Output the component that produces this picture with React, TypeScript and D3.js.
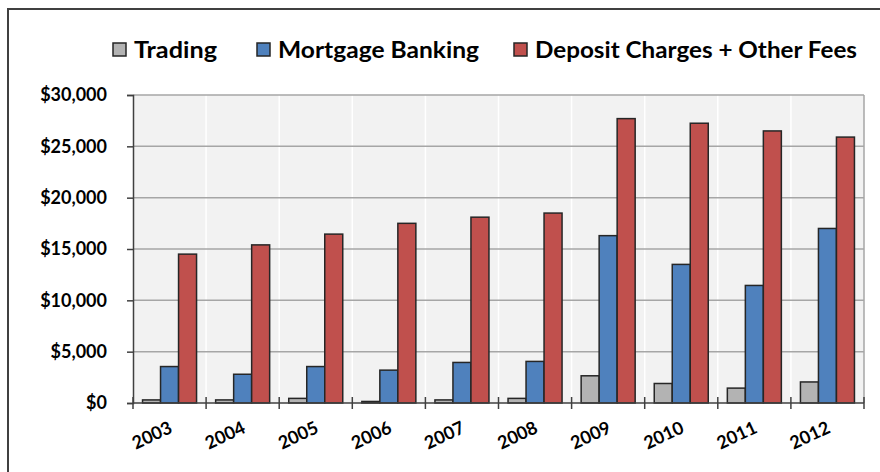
import React, { useEffect, useRef } from "react";
import * as d3 from "d3";

const years = ["2003", "2004", "2005", "2006", "2007", "2008", "2009", "2010", "2011", "2012"];
const seriesNames = ["Trading", "Mortgage Banking", "Deposit Charges + Other Fees"];
const trading = [300, 300, 450, 150, 300, 450, 2650, 1900, 1450, 2050];
const mortgageBanking = [3550, 2800, 3550, 3200, 3950, 4050, 16300, 13500, 11450, 17000];
const depositCharges = [14500, 15400, 16450, 17500, 18100, 18500, 27700, 27250, 26500, 25900];
const yTicks = [0, 5000, 10000, 15000, 20000, 25000, 30000];
const colors = ["#b3b3b3", "#4f81bd", "#c0504d"];

const FONT = "Lato, 'Open Sans', sans-serif";

const App = () => {
  const chartRef = useRef<SVGSVGElement>(null);

  useEffect(() => {
    const width = 880,
      height = 472;
    const svg = d3.select(chartRef.current);
    svg.selectAll("*").remove();

    // Outer chart frame (runs off the right and bottom)
    svg.append("rect")
      .attr("x", 8)
      .attr("y", 9)
      .attr("width", width + 20)
      .attr("height", height + 20)
      .attr("fill", "#fff")
      .attr("stroke", "#404040")
      .attr("stroke-width", 2);

    const margin = { top: 95, right: 16, bottom: 69, left: 133 };
    const innerWidth = width - margin.left - margin.right,
      innerHeight = height - margin.top - margin.bottom;

    const g = svg.append("g").attr("transform", `translate(${margin.left},${margin.top})`);

    const x0 = d3.scaleBand().domain(years).range([0, innerWidth]).padding(0);
    const x1 = d3.scaleBand().domain(seriesNames).range([0, x0.bandwidth()]).paddingInner(0).paddingOuter(0.53);
    const y = d3.scaleLinear().domain([0, 30000]).range([innerHeight, 0]);

    // Plot area
    g.append("rect")
      .attr("width", innerWidth)
      .attr("height", innerHeight)
      .attr("fill", "#f2f2f2");

    // White vertical lines between categories
    g.selectAll(".vgrid")
      .data(years.slice(1))
      .enter()
      .append("line")
      .attr("x1", d => x0(d)!)
      .attr("x2", d => x0(d)!)
      .attr("y1", 0)
      .attr("y2", innerHeight)
      .attr("stroke", "#fff")
      .attr("stroke-width", 1.5);

    // Horizontal gridlines
    g.selectAll(".hgrid")
      .data(yTicks.slice(1))
      .enter()
      .append("line")
      .attr("x1", 0)
      .attr("x2", innerWidth)
      .attr("y1", d => y(d))
      .attr("y2", d => y(d))
      .attr("stroke", "#a6a6a6")
      .attr("stroke-width", 1.5);

    // Right edge of plot
    g.append("line")
      .attr("x1", innerWidth)
      .attr("x2", innerWidth)
      .attr("y1", 0)
      .attr("y2", innerHeight)
      .attr("stroke", "#a6a6a6")
      .attr("stroke-width", 1.5);

    // Bars
    const values = [trading, mortgageBanking, depositCharges];
    values.forEach((vals, si) => {
      g.append("g")
        .selectAll("rect")
        .data(vals)
        .enter()
        .append("rect")
        .attr("x", (d, i) => x0(years[i])! + x1(seriesNames[si])!)
        .attr("y", d => y(d))
        .attr("width", x1.bandwidth())
        .attr("height", d => innerHeight - y(d))
        .attr("fill", colors[si])
        .attr("stroke", "#262626")
        .attr("stroke-width", 1.5);
    });

    // Y axis
    const yAxis = d3
      .axisLeft(y)
      .tickValues(yTicks)
      .tickSize(6)
      .tickPadding(20)
      .tickFormat(d => "$" + d3.format(",")(d as number));
    const yg = g.append("g").call(yAxis);
    yg.select(".domain").attr("stroke", "#404040").attr("stroke-width", 1.5);
    yg.selectAll(".tick line").attr("stroke", "#404040").attr("stroke-width", 1.5);
    yg.selectAll("text")
      .attr("font-family", FONT)
      .attr("font-weight", "bold")
      .attr("font-size", 18)
      .attr("fill", "#000");

    // X axis: ticks at category boundaries
    const xg = g.append("g").attr("transform", `translate(0,${innerHeight})`);
    xg.append("line")
      .attr("x1", 0)
      .attr("x2", innerWidth)
      .attr("stroke", "#404040")
      .attr("stroke-width", 1.5);
    xg.selectAll(".xtick")
      .data([...years.map(d => x0(d)!), innerWidth])
      .enter()
      .append("line")
      .attr("x1", d => d)
      .attr("x2", d => d)
      .attr("y1", -6)
      .attr("y2", 6)
      .attr("stroke", "#404040")
      .attr("stroke-width", 1.5);
    xg.selectAll(".xlabel")
      .data(years)
      .enter()
      .append("text")
      .attr("text-anchor", "end")
      .attr("transform", d => `translate(${x0(d)! + x0.bandwidth() / 2 + 4},${29}) rotate(-25)`)
      .attr("font-family", FONT)
      .attr("font-weight", "bold")
      .attr("font-size", 18)
      .attr("fill", "#000")
      .text(d => d);

    // Legend
    const legendX = [113, 257, 514];
    const legendTextWidth = [83, 201, 322];
    const legend = svg.append("g");
    seriesNames.forEach((name, i) => {
      legend.append("rect")
        .attr("x", legendX[i])
        .attr("y", 43)
        .attr("width", 13)
        .attr("height", 13)
        .attr("fill", colors[i])
        .attr("stroke", "#262626")
        .attr("stroke-width", 1.5);
      legend.append("text")
        .attr("x", legendX[i] + 21)
        .attr("y", 58)
        .attr("font-family", FONT)
        .attr("font-weight", "bold")
        .attr("font-size", 22)
        .attr("fill", "#000")
        .attr("textLength", legendTextWidth[i])
        .attr("lengthAdjust", "spacingAndGlyphs")
        .text(name);
    });
  }, []);

  return (
    <svg
      ref={chartRef}
      width={880}
      height={472}
      style={{ position: "absolute", left: 0, top: 0 }}
    ></svg>
  );
};

export default App;
